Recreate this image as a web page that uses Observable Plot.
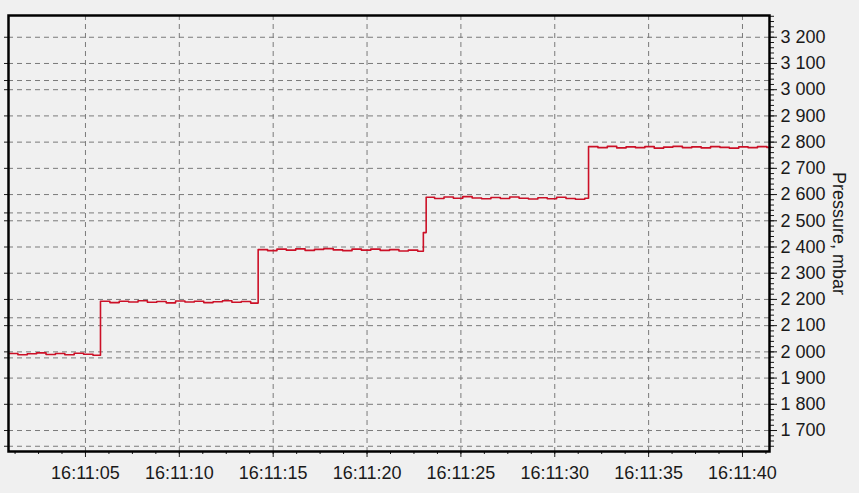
<!DOCTYPE html>
<html><head><meta charset="utf-8">
<script src="https://cdn.jsdelivr.net/npm/d3@7"></script>
<script src="https://cdn.jsdelivr.net/npm/@observablehq/plot@0.6"></script>
<style>html,body{margin:0;padding:0;background:#f0f0f0;} svg{display:block}</style>
</head><body><div id="chart"></div>
<script>
// seconds after 16:11:00
const timeSeconds = [
  0.9, 1.4, 1.9, 2.4, 2.9, 3.4, 3.9, 4.4, 4.9, 5.4,
  5.8, 6.3, 6.8, 7.3, 7.8, 8.3, 8.8, 9.3, 9.8, 10.3, 10.8, 11.3, 11.8, 12.3, 12.8, 13.3, 13.8,
  14.2, 14.7, 15.2, 15.7, 16.2, 16.7, 17.2, 17.7, 18.2, 18.7, 19.2, 19.7, 20.2, 20.7, 21.2, 21.7, 22.2, 22.7,
  23.0, 23.15, 23.6, 24.1, 24.6, 25.1, 25.6, 26.1, 26.6, 27.1, 27.6, 28.1, 28.6, 29.1, 29.6, 30.1, 30.6, 31.1, 31.6,
  31.8, 32.3, 32.8, 33.3, 33.8, 34.3, 34.8, 35.3, 35.8, 36.3, 36.8, 37.3, 37.8, 38.3, 38.8, 39.3, 39.8, 40.3, 40.8, 41.3, 41.5
];
const pressureMbar = [
  1994, 1989, 1993, 1996, 1990, 1994, 1989, 1995, 1991, 1987,
  2193, 2188, 2193, 2190, 2195, 2189, 2192, 2187, 2194, 2190, 2193, 2188, 2191, 2195, 2189, 2192, 2186,
  2390, 2386, 2392, 2388, 2393, 2387, 2391, 2394, 2389, 2386, 2392, 2388, 2392, 2387, 2390, 2385, 2388, 2384,
  2455, 2590, 2585, 2591, 2586, 2592, 2587, 2584, 2589, 2585, 2591, 2586, 2583, 2588, 2584, 2590, 2585, 2582, 2586,
  2783, 2779, 2784, 2778, 2782, 2779, 2783, 2777, 2781, 2784, 2779, 2782, 2778, 2783, 2780, 2777, 2782, 2779, 2783, 2780, 2781
];
const yTickValues = [1700, 1800, 1900, 2000, 2100, 2200, 2300, 2400, 2500, 2600, 2700, 2800, 2900, 3000, 3100, 3200];
const extraGridValues = [3035, 2530, 2130, 1977, 1640];
const xTickSeconds = [5, 10, 15, 20, 25, 30, 35, 40];
const yLabel = "Pressure, mbar";

const base = Date.UTC(2024, 0, 1, 16, 11, 0);
const toDate = s => new Date(base + s * 1000);
const data = timeSeconds.map((s, i) => ({t: toDate(s), p: pressureMbar[i]}));
const xTicks = xTickSeconds.map(toDate);
const xMinor = d3.range(1.25, 41.5, 1.25).map(toDate);
const yMinor = d3.range(1640, 3281, 20);
const fmt = d3.formatLocale({decimal: ".", thousands: " ", grouping: [3], currency: ["", ""]}).format(",");
const gridStyle = {stroke: "#7a7a7a", strokeOpacity: 1, strokeWidth: 1, strokeDasharray: "5,4"};

const chart = Plot.plot({
  width: 859,
  height: 493,
  marginLeft: 8,
  marginRight: 90,
  marginTop: 15,
  marginBottom: 42,
  style: {background: "#f0f0f0", fontFamily: "Liberation Sans, Arial, sans-serif", fontSize: "18px", color: "#1a1a1a"},
  x: {type: "utc", domain: [toDate(0.9), toDate(41.44)]},
  y: {domain: [1620, 3283]},
  marks: [
    Plot.ruleX(xTicks, gridStyle),
    Plot.ruleY(yTickValues.concat(extraGridValues), gridStyle),
    Plot.line(data, {x: "t", y: "p", curve: "step-after", stroke: "#cc1027", strokeWidth: 1.6}),
    Plot.axisY(yMinor, {anchor: "right", tickSize: 4, text: null, label: null, stroke: "#1a1a1a"}),
    Plot.axisY(yTickValues, {anchor: "right", tickSize: 7, tickPadding: 4, tickFormat: fmt, label: null, fontSize: 18, stroke: "#1a1a1a"}),
    Plot.axisY(yTickValues.concat(extraGridValues), {anchor: "left", tickSize: 4, text: null, label: null, stroke: "#1a1a1a"}),
    Plot.axisX(xMinor, {anchor: "bottom", tickSize: 3, text: null, label: null, stroke: "#1a1a1a"}),
    Plot.axisX(xTicks, {anchor: "bottom", tickSize: 6, tickPadding: 9, tickFormat: d3.utcFormat("%H:%M:%S"), label: null, fontSize: 18, stroke: "#1a1a1a"}),
    Plot.frame({stroke: "black", strokeWidth: 2.5}),
    Plot.text([yLabel], {frameAnchor: "right", textAnchor: "middle", dx: 69, rotate: 90, fontSize: 18, fill: "#1a1a1a"})
  ]
});
document.getElementById("chart").appendChild(chart);
</script>
</body></html>
